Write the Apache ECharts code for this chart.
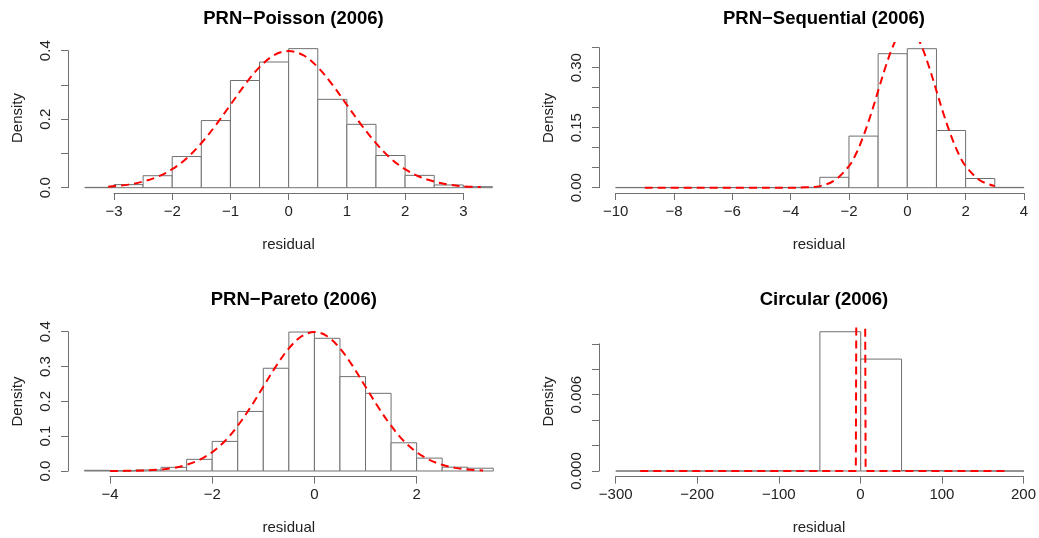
<!DOCTYPE html>
<html>
<head>
<meta charset="utf-8">
<script src="https://cdn.jsdelivr.net/npm/echarts@6/dist/echarts.min.js"></script>
<style>
html,body{margin:0;padding:0;background:#fff;}
#chart{width:1039px;height:538px;}
</style>
</head>
<body>
<div id="chart"></div>
<script>
// ---------------- data ----------------
const titles = ['PRN\u2212Poisson (2006)', 'PRN\u2212Sequential (2006)', 'PRN\u2212Pareto (2006)', 'Circular (2006)'];
const xAxisTitle = 'residual';
const yAxisTitle = 'Density';

// Panel 1: PRN-Poisson
const poissonEdges = [-3.5,-3,-2.5,-2,-1.5,-1,-0.5,0,0.5,1,1.5,2,2.5,3,3.5];
const poissonDensity = [0.001,0.009,0.035,0.091,0.196,0.313,0.367,0.406,0.258,0.185,0.094,0.036,0.008,0.003];
const poissonCurveX = [-3.1,-2.75,-2.5,-2.25,-2,-1.75,-1.5,-1.25,-1,-0.75,-0.5,-0.25,0,0.25,0.5,0.75,1,1.25,1.5,1.75,2,2.25,2.5,2.75,3,3.3];
const poissonCurveY = [0.003,0.009,0.018,0.032,0.054,0.086,0.130,0.183,0.242,0.301,0.352,0.387,0.399,0.387,0.352,0.301,0.242,0.183,0.130,0.086,0.054,0.032,0.018,0.009,0.004,0.002];
const poissonXTicks = [-3, 3, 1];
const poissonYTicks = [0, 0.4, 0.1];
const poissonYLabels = ['0.0','0.2','0.4'];

// Panel 2: PRN-Sequential
const seqEdges = [-10,-9,-8,-7,-6,-5,-4,-3,-2,-1,0,1,2,3,4];
const seqDensity = [0.0006,0.0006,0.0006,0.0006,0.0006,0.0006,0.0008,0.026,0.129,0.335,0.3475,0.143,0.023,0.0008];
const seqCurveX = [-9,-4,-3.5,-3,-2.5,-2,-1.75,-1.5,-1.25,-1,-0.75,-0.5,-0.25,0,0.25,0.5,0.75,1,1.25,1.5,1.75,2,2.5,3];
const seqCurveY = [0,0.0001,0.0009,0.004,0.018,0.054,0.086,0.130,0.183,0.242,0.301,0.352,0.387,0.399,0.387,0.352,0.301,0.242,0.183,0.130,0.086,0.054,0.018,0.004];
const seqXTicks = [-10, 4, 2];
const seqYTicks = [0, 0.35, 0.05];
const seqYLabels = ['0.00','0.15','0.30'];

// Panel 3: PRN-Pareto
const paretoEdges = [-4.5,-4,-3.5,-3,-2.5,-2,-1.5,-1,-0.5,0,0.5,1,1.5,2,2.5,3,3.5];
const paretoDensity = [0.002,0.0005,0.003,0.0105,0.0335,0.085,0.171,0.295,0.399,0.381,0.271,0.223,0.081,0.037,0.011,0.008];
const paretoCurveX = [-4,-3.5,-3,-2.75,-2.5,-2.25,-2,-1.75,-1.5,-1.25,-1,-0.75,-0.5,-0.25,0,0.25,0.5,0.75,1,1.25,1.5,1.75,2,2.25,2.5,2.75,3,3.3];
const paretoCurveY = [0.0001,0.0009,0.0044,0.009,0.018,0.032,0.054,0.086,0.130,0.183,0.242,0.301,0.352,0.387,0.399,0.387,0.352,0.301,0.242,0.183,0.130,0.086,0.054,0.032,0.018,0.009,0.0044,0.0017];
const paretoXTicks = [-4, 2, 2];
const paretoYTicks = [0, 0.4, 0.1];
const paretoYLabels = ['0.0','0.1','0.2','0.3','0.4'];

// Panel 4: Circular
const circEdges = [-300,-250,-200,-150,-100,-50,0,50,100,150,200];
const circDensity = [0,0,0,0,0.00002,0.01095,0.0088,0.00004,0,0];
const circCurveX = [-270,-6,0,6,180];
const circCurveY = [0,0,0.13,0,0];
const circXTicks = [-300, 200, 100];
const circYTicks = [0, 0.010, 0.002];
const circYLabels = ['0.000','0.006'];

// ---------------- layout (pixels) ----------------
const panels = [
  {edges: poissonEdges, dens: poissonDensity, cx: poissonCurveX, cy: poissonCurveY, xt: poissonXTicks, yt: poissonYTicks, yl: poissonYLabels, dec: 1,
   data: {left: 68, top: 43, width: 441, height: 150}, xr: [-3.790, 3.785], yr: [-0.01547, 0.4225],
   xdec: {left: 114, width: 349.3}, ydec: {top: 50.7, height: 137}, titleTop: 4},
  {edges: seqEdges, dens: seqDensity, cx: seqCurveX, cy: seqCurveY, xt: seqXTicks, yt: seqYTicks, yl: seqYLabels, dec: 2,
   data: {left: 599, top: 43, width: 440, height: 150}, xr: [-10.571, 4.516], yr: [-0.01325, 0.36175],
   xdec: {left: 615.7, width: 408.3}, ydec: {top: 47.7, height: 140}, titleTop: 4},
  {edges: paretoEdges, dens: paretoDensity, cx: paretoCurveX, cy: paretoCurveY, xt: paretoXTicks, yt: paretoYTicks, yl: paretoYLabels, dec: 1,
   data: {left: 68, top: 326.4, width: 441.6, height: 150.2}, xr: [-4.821, 3.819], yr: [-0.01608, 0.4152],
   xdec: {left: 110, width: 306.7}, ydec: {top: 331.7, height: 139.3}, titleTop: 285},
  {edges: circEdges, dens: circDensity, cx: circCurveX, cy: circCurveY, xt: circXTicks, yt: circYTicks, yl: circYLabels, dec: 3,
   data: {left: 599, top: 326.2, width: 440, height: 150.4}, xr: [-320.5, 218.3], yr: [-0.00044, 0.011386],
   xdec: {left: 615.7, width: 408.3}, ydec: {top: 343.8, height: 127.2}, titleTop: 285}
];

const LINE = '#707070';
const TEXT = '#222';
const FONT = 'Liberation Sans, Arial, sans-serif';

const grid = [], xAxis = [], yAxis = [], series = [], title = [];

panels.forEach((p, i) => {
  const g0 = grid.length;
  const bottomPx = p.data.top + p.data.height;
  grid.push({left: p.data.left, top: p.data.top, width: p.data.width, height: p.data.height});
  grid.push({left: p.xdec.left, width: p.xdec.width, top: bottomPx - 40, height: 40});
  grid.push({left: p.data.left, width: 20, top: p.ydec.top, height: p.ydec.height});

  const hidden = {axisLine: {show: false}, axisTick: {show: false}, axisLabel: {show: false}, splitLine: {show: false}};
  // data grid axes (names only)
  xAxis.push(Object.assign({type: 'value', gridIndex: g0, min: p.xr[0], max: p.xr[1],
    name: xAxisTitle, nameLocation: 'middle', nameGap: 44,
    nameTextStyle: {fontSize: 15, color: TEXT, fontFamily: FONT}}, hidden));
  yAxis.push(Object.assign({type: 'value', gridIndex: g0, min: p.yr[0], max: p.yr[1],
    name: yAxisTitle, nameLocation: 'middle', nameGap: 43, nameRotate: 90,
    nameTextStyle: {fontSize: 15, color: TEXT, fontFamily: FONT}}, hidden));
  // x decoration grid
  xAxis.push({type: 'value', gridIndex: g0 + 1, position: 'bottom', min: p.xt[0], max: p.xt[1], interval: p.xt[2],
    axisLine: {show: true, lineStyle: {color: LINE, width: 1}},
    axisTick: {show: true, inside: false, length: 7, lineStyle: {color: LINE, width: 1}},
    axisLabel: {show: true, margin: 11, fontSize: 15, color: TEXT, fontFamily: FONT,
      formatter: v => String(v).replace('-', '\u2212')},
    splitLine: {show: false}});
  yAxis.push(Object.assign({type: 'value', gridIndex: g0 + 1, min: 0, max: 1}, hidden));
  // y decoration grid
  xAxis.push(Object.assign({type: 'value', gridIndex: g0 + 2, min: 0, max: 1}, hidden));
  yAxis.push({type: 'value', gridIndex: g0 + 2, position: 'left', min: p.yt[0], max: p.yt[1], interval: p.yt[2],
    axisLine: {show: true, lineStyle: {color: LINE, width: 1}},
    axisTick: {show: true, inside: false, length: 7, lineStyle: {color: LINE, width: 1}},
    axisLabel: {show: true, rotate: 90, margin: 15, fontSize: 15, color: TEXT, fontFamily: FONT,
      formatter: v => { const s = v.toFixed(p.dec); return p.yl.indexOf(s) >= 0 ? s : ''; }},
    splitLine: {show: false}});

  // histogram bars
  const bars = p.dens.map((d, k) => [p.edges[k], p.edges[k + 1], d]);
  series.push({
    type: 'custom', xAxisIndex: g0, yAxisIndex: g0, data: bars, clip: true,
    renderItem: (params, api) => {
      const a = api.coord([api.value(0), api.value(2)]);
      const b = api.coord([api.value(1), 0]);
      return {type: 'rect', shape: {x: a[0], y: a[1], width: b[0] - a[0], height: b[1] - a[1]},
        style: {fill: '#fff', stroke: LINE, lineWidth: 1}};
    },
    encode: {x: [0, 1], y: 2}, silent: true, z: 2
  });
  // normal density curve
  series.push({
    type: 'line', xAxisIndex: g0, yAxisIndex: g0, showSymbol: false, symbol: 'none', clip: true,
    smooth: i === 3 ? false : 0.35,
    data: p.cx.map((x, k) => [x, p.cy[k]]),
    lineStyle: {color: '#ff0000', width: 2, type: [8, 5]}, silent: true, z: 3
  });

  title.push({text: titles[i], left: p.data.left + p.data.width / 2, top: p.titleTop, textAlign: 'center',
    textStyle: {fontSize: 18.5, fontWeight: 'bold', color: '#000', fontFamily: FONT}});
});

const chart = echarts.init(document.getElementById('chart'), null, {renderer: 'canvas'});
chart.setOption({animation: false, backgroundColor: '#fff', title, grid, xAxis, yAxis, series});
</script>
</body>
</html>
